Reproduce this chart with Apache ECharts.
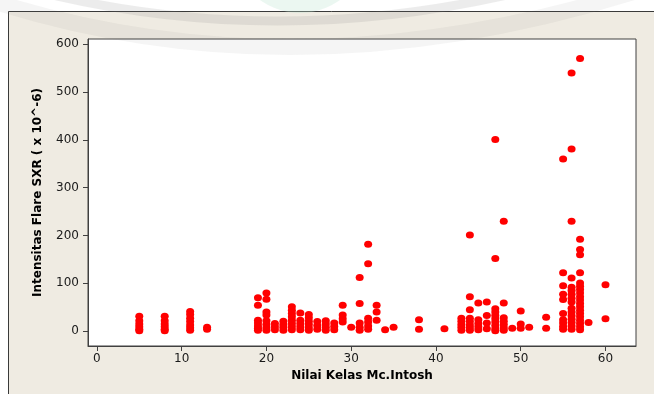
<!DOCTYPE html>
<html>
<head>
<meta charset="utf-8">
<script src="https://cdn.jsdelivr.net/npm/echarts@6/dist/echarts.min.js"></script>
<style>
  html, body { margin: 0; padding: 0; background: #fff; }
  #chart { width: 654px; height: 394px; }
</style>
</head>
<body>
<div id="chart"></div>
<script>
// Mc.Intosh class value -> SXR flare intensities
const kelas = [5, 8, 11, 13, 19, 20, 21, 22, 23, 24, 25, 26, 27, 28, 29, 30, 31, 32, 33, 34, 35,
    38, 41, 43, 44, 45, 46, 47, 48, 49, 50, 51, 53, 55, 56, 57, 58, 60];
const intensitas = [
    [31, 22, 15, 9, 4, 1],
    [31, 22, 15, 9, 4, 1],
    [41, 35, 27, 20, 13, 7, 2],
    [8, 4],
    [70, 54, 23, 17, 11, 6, 2],
    [80, 67, 40, 34, 22, 14, 7, 2],
    [16, 9, 3],
    [21, 14, 8, 2],
    [51, 44, 37, 30, 23, 16, 9, 3],
    [38, 23, 16, 9, 3],
    [35, 28, 21, 14, 7, 2],
    [20, 12, 4],
    [22, 15, 8, 2],
    [17, 10, 3],
    [54, 34, 26, 19],
    [8],
    [112, 58, 17, 8, 2],
    [182, 141, 27, 19, 11, 4],
    [54, 40, 23],
    [3],
    [8],
    [24, 4],
    [5],
    [27, 21, 14, 8, 2],
    [201, 72, 45, 27, 20, 13, 7, 2],
    [59, 24, 16, 9, 3],
    [61, 33, 17, 5],
    [401, 152, 47, 40, 33, 26, 19, 12, 5, 1],
    [230, 59, 28, 21, 14, 7, 2],
    [6],
    [42, 15, 6],
    [8],
    [29, 6],
    [360, 122, 95, 77, 66, 37, 24, 17, 10, 4],
    [540, 381, 230, 111, 92, 85, 77, 69, 61, 48, 40, 32, 25, 18, 11, 4],
    [570, 192, 171, 160, 122, 101, 94, 87, 80, 72, 65, 58, 51, 44, 37, 30, 23, 16, 9, 3],
    [18],
    [97, 26]
];
const xTicks = [0, 10, 20, 30, 40, 50, 60];
const yTicks = [0, 100, 200, 300, 400, 500, 600];

const points = [];
kelas.forEach((k, i) => {
    intensitas[i].forEach(v => points.push([k, v]));
});

const axisColor = '#404040';
const labelFont = { color: '#1a1a1a', fontFamily: 'DejaVu Sans', fontSize: 12 };
const titleFont = { color: '#000', fontFamily: 'DejaVu Sans', fontWeight: 'bold', fontSize: 12 };

const chart = echarts.init(document.getElementById('chart'), null, { renderer: 'canvas' });

chart.setOption({
    backgroundColor: '#ffffff',
    animation: false,
    graphic: [
        //beige frame
        {
            type: 'rect', z: -10, silent: true,
            shape: { x: 8.5, y: 11.5, width: 700, height: 400 },
            style: { fill: '#efebe2', stroke: '#3a3a3a', lineWidth: 1 }
        },
        //faint watermark arcs
        {
            type: 'circle', z: 100, silent: true,
            shape: { cx: 300, cy: -55, r: 68 },
            style: { fill: 'rgba(190,228,210,0.3)' }
        },
        {
            type: 'bezierCurve', z: 100, silent: true,
            shape: { x1: 40, y1: -8, x2: 520, y2: -8, cpx1: 275, cpy1: 50 },
            style: { stroke: 'rgba(120,120,120,0.14)', lineWidth: 9, fill: 'none' }
        },
        {
            type: 'bezierCurve', z: 100, silent: true,
            shape: { x1: -40, y1: -10, x2: 640, y2: -10, cpx1: 280, cpy1: 104 },
            style: { stroke: 'rgba(120,120,120,0.07)', lineWidth: 16, fill: 'none' }
        }
    ],
    grid: {
        left: 88, top: 39, right: 18, bottom: 48,
        show: true, backgroundColor: '#ffffff',
        borderColor: axisColor, borderWidth: 1
    },
    xAxis: {
        type: 'value', min: -1.05, max: 63.6,
        name: 'Nilai Kelas Mc.Intosh', nameLocation: 'middle', nameGap: 24,
        nameTextStyle: titleFont,
        axisLine: { show: true, onZero: false, lineStyle: { color: axisColor } },
        axisTick: { show: true, length: 5, customValues: xTicks, lineStyle: { color: axisColor } },
        axisLabel: Object.assign({ customValues: xTicks, margin: 7 }, labelFont),
        splitLine: { show: false }
    },
    yAxis: {
        type: 'value', min: -31, max: 611,
        name: 'Intensitas Flare SXR ( x 10^-6)', nameLocation: 'middle', nameGap: 44,
        nameTextStyle: titleFont,
        axisLine: { show: true, onZero: false, lineStyle: { color: axisColor } },
        axisTick: { show: true, length: 5, customValues: yTicks, lineStyle: { color: axisColor } },
        axisLabel: Object.assign({ customValues: yTicks, margin: 9 }, labelFont),
        splitLine: { show: false }
    },
    series: [{
        type: 'scatter',
        data: points,
        symbol: 'circle',
        symbolSize: [8, 7],
        itemStyle: { color: '#ff0000', opacity: 1 }
    }]
});
</script>
</body>
</html>
